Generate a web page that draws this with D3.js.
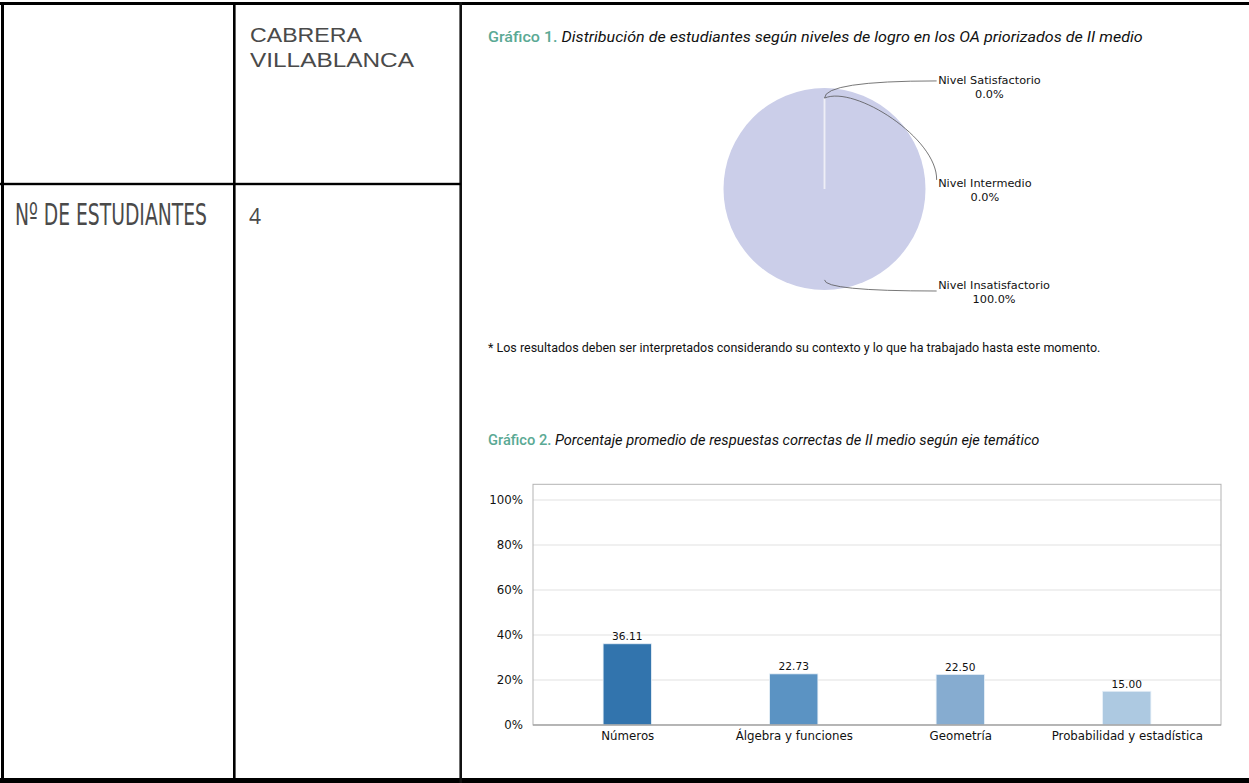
<!DOCTYPE html>
<html>
<head>
<meta charset="utf-8">
<script src="https://cdn.jsdelivr.net/npm/d3@7"></script>
<style>
  html, body { margin: 0; padding: 0; background: #fff; }
  svg { display: block; }
</style>
</head>
<body>
<svg id="c" width="1249" height="783"></svg>
<script>
// ---------- data ----------
const schoolName = ["CABRERA", "VILLABLANCA"];
const studentsLabel = "Nº DE ESTUDIANTES";
const studentsCount = "4";

const title1Prefix = "Gráfico 1.";
const title1Text = " Distribución de estudiantes según niveles de logro en los OA priorizados de II medio";
const footnote = "* Los resultados deben ser interpretados considerando su contexto y lo que ha trabajado hasta este momento.";
const title2Prefix = "Gráfico 2.";
const title2Text = " Porcentaje promedio de respuestas correctas de II medio según eje temático";

const pieLabels = ["Nivel Satisfactorio", "Nivel Intermedio", "Nivel Insatisfactorio"];
const pieValues = [0.0, 0.0, 100.0];

const categories = ["Números", "Álgebra y funciones", "Geometría", "Probabilidad y estadística"];
const values = [36.11, 22.73, 22.50, 15.00];
const yTicks = [0, 20, 40, 60, 80, 100];

// ---------- styles ----------
const barColors = ["#3274ad", "#5b93c3", "#86acd0", "#adc9e1"];
const pieColor = "#cbcee9";
const teal = "#5aa994";
const tableText = "#4a4a4a";

(function () {
const svg = d3.select("#c");

// fit a text element horizontally to a width by scaling (keeps its height)
function fitWidth(sel, x0, y0, width) {
  const w = sel.node().getComputedTextLength();
  sel.attr("x", 0).attr("y", 0)
    .attr("transform", `translate(${x0},${y0}) scale(${width / w},1)`);
}

// ---------- table frame ----------
const g0 = svg.append("g");
g0.append("rect").attr("x", 0).attr("y", 2).attr("width", 1249).attr("height", 3).attr("fill", "#000");
g0.append("rect").attr("x", 0).attr("y", 778).attr("width", 1249).attr("height", 5).attr("fill", "#000");
g0.append("rect").attr("x", 1).attr("y", 2).attr("width", 3).attr("height", 781).attr("fill", "#000");
g0.append("rect").attr("x", 233).attr("y", 2).attr("width", 2.6).attr("height", 781).attr("fill", "#000");
g0.append("rect").attr("x", 459.4).attr("y", 2).attr("width", 2.6).attr("height", 781).attr("fill", "#111");
g0.append("rect").attr("x", 0).attr("y", 182.8).attr("width", 461).attr("height", 2.4).attr("fill", "#000");

// table texts
const nameWidths = [112, 164];
schoolName.forEach((s, i) => {
  const t = svg.append("text").attr("font-family", "'Liberation Sans', Arial, sans-serif")
    .attr("font-size", 21).attr("fill", tableText).text(s);
  fitWidth(t, 250, 41.5 + i * 25.5, nameWidths[i]);
});
const lab = svg.append("text")
  .attr("font-family", "'Liberation Sans Narrow', 'DejaVu Sans Condensed', 'Liberation Sans', sans-serif")
  .attr("font-size", 30.5).attr("fill", tableText).text(studentsLabel);
fitWidth(lab, 15, 224.5, 192);
svg.append("text").attr("x", 249).attr("y", 223.5)
  .attr("font-family", "'Open Sans', 'Noto Sans', sans-serif")
  .attr("font-size", 21).attr("fill", tableText).text(studentsCount);

// ---------- titles ----------
function title(yy, prefix, rest, width) {
  const t = svg.append("text")
    .attr("font-family", "Roboto, 'Noto Sans', sans-serif").attr("font-size", 14);
  t.append("tspan").attr("fill", teal).attr("font-weight", 500).text(prefix);
  t.append("tspan").attr("fill", "#111").attr("font-style", "italic").text(rest);
  fitWidth(t, 488, yy, width);
}
title(42, title1Prefix, title1Text, 655);
const fn = svg.append("text")
  .attr("font-family", "Roboto, 'Noto Sans', sans-serif").attr("font-size", 12).attr("fill", "#111")
  .text(footnote);
fitWidth(fn, 488, 352, 613);
title(445, title2Prefix, title2Text, 552);

// ---------- pie ----------
const cx = 824.5, cy = 189, R = 101;
const pieG = svg.append("g").attr("transform", `translate(${cx},${cy})`);
const arcs = d3.pie().sort(null).startAngle(0).endAngle(2 * Math.PI)(pieValues);
const arcGen = d3.arc().innerRadius(0).outerRadius(R);
pieG.selectAll("path.w").data(arcs.filter(a => a.endAngle > a.startAngle)).join("path")
  .attr("class", "w").attr("d", arcGen).attr("fill", pieColor);
arcs.filter(a => a.endAngle === a.startAngle).forEach(a => {
  const ang = a.startAngle;
  pieG.append("line").attr("x1", 0).attr("y1", 0)
    .attr("x2", Math.sin(ang) * R * 0.9).attr("y2", -Math.cos(ang) * R * 0.9)
    .attr("stroke", "#eeeef7").attr("stroke-width", 1.5);
});

const labelLayout = [
  { dx: 1.125, dy: -1.04, endDy: -0.03 },
  { dx: 1.125, dy: -0.02, endDy: -0.07 },
  { dx: 1.125, dy: 0.99, endDy: 0.02 }
];
const lblG = svg.append("g").attr("font-family", "'DejaVu Sans', sans-serif").attr("font-size", 11.3).attr("fill", "#111");
arcs.forEach((a, i) => {
  const L = labelLayout[i];
  const lx = cx + L.dx * R, ly = cy + L.dy * R;
  const t1 = lblG.append("text").attr("x", lx).attr("y", ly).text(pieLabels[i]);
  const w = t1.node().getComputedTextLength();
  lblG.append("text").attr("x", lx + w / 2).attr("y", ly + 14).attr("text-anchor", "middle")
    .text(pieValues[i].toFixed(1) + "%");
  const mid = (a.startAngle + a.endAngle) / 2;
  const sx = cx + Math.sin(mid) * R * 0.9, sy = cy - Math.cos(mid) * R * 0.9;
  const ex = lx - 1.5, ey = ly + L.endDy * R;
  const p = d3.path();
  p.moveTo(sx, sy);
  if (i === 1) {
    p.bezierCurveTo(sx + 0.3 * R, sy - 0.13 * R, ex + 1, cy - 0.5 * R, ex, ey);
  } else {
    p.quadraticCurveTo(sx, ey, ex, ey);
  }
  svg.append("path").attr("d", p.toString()).attr("fill", "none")
    .attr("stroke", "#555").attr("stroke-width", 0.8);
});

// ---------- bar chart ----------
const pLeft = 533, pRight = 1221, pTop = 484.3, pBottom = 725;
const y = d3.scaleLinear().domain([0, 107]).range([pBottom, pTop]);
const x = d3.scalePoint().domain(categories).range([pLeft, pRight]).padding(0.566);
const bw = x.step() * 0.29;

const bg = svg.append("g");
bg.selectAll("line.grid").data(yTicks).join("line").attr("class", "grid")
  .attr("x1", pLeft).attr("x2", pRight).attr("y1", d => y(d)).attr("y2", d => y(d))
  .attr("stroke", "#ebebeb").attr("stroke-width", 1.6);

bg.selectAll("rect.bar").data(values).join("rect").attr("class", "bar")
  .attr("x", (d, i) => x(categories[i]) - bw / 2).attr("width", bw)
  .attr("y", d => y(d)).attr("height", d => y(0) - y(d))
  .attr("fill", (d, i) => barColors[i]).attr("stroke", "#e8f0f8").attr("stroke-width", 0.8);

bg.selectAll("text.val").data(values).join("text").attr("class", "val")
  .attr("x", (d, i) => x(categories[i])).attr("y", d => y(d) - 3.5)
  .attr("text-anchor", "middle").attr("font-family", "'DejaVu Sans', sans-serif")
  .attr("font-size", 10.6).attr("fill", "#111").text(d => d.toFixed(2));

bg.append("rect").attr("x", pLeft).attr("y", pTop).attr("width", pRight - pLeft).attr("height", pBottom - pTop)
  .attr("fill", "none").attr("stroke", "#b3b3b3").attr("stroke-width", 1);
bg.append("line").attr("x1", pLeft).attr("x2", pRight).attr("y1", pBottom).attr("y2", pBottom)
  .attr("stroke", "#999").attr("stroke-width", 1.2);

const yAxis = bg.append("g").attr("transform", `translate(${pLeft},0)`)
  .call(d3.axisLeft(y).tickValues(yTicks).tickFormat(d => d + "%").tickSize(0).tickPadding(10));
yAxis.select(".domain").remove();
yAxis.selectAll("text").attr("font-family", "'DejaVu Sans', sans-serif").attr("font-size", 11.8).attr("fill", "#111");

const xAxis = bg.append("g").attr("transform", `translate(0,${pBottom})`)
  .call(d3.axisBottom(x).tickSize(0).tickPadding(6.5));
xAxis.select(".domain").remove();
xAxis.selectAll("text").attr("font-family", "'DejaVu Sans', sans-serif").attr("font-size", 11.8).attr("fill", "#111");
})();
</script>
</body>
</html>
